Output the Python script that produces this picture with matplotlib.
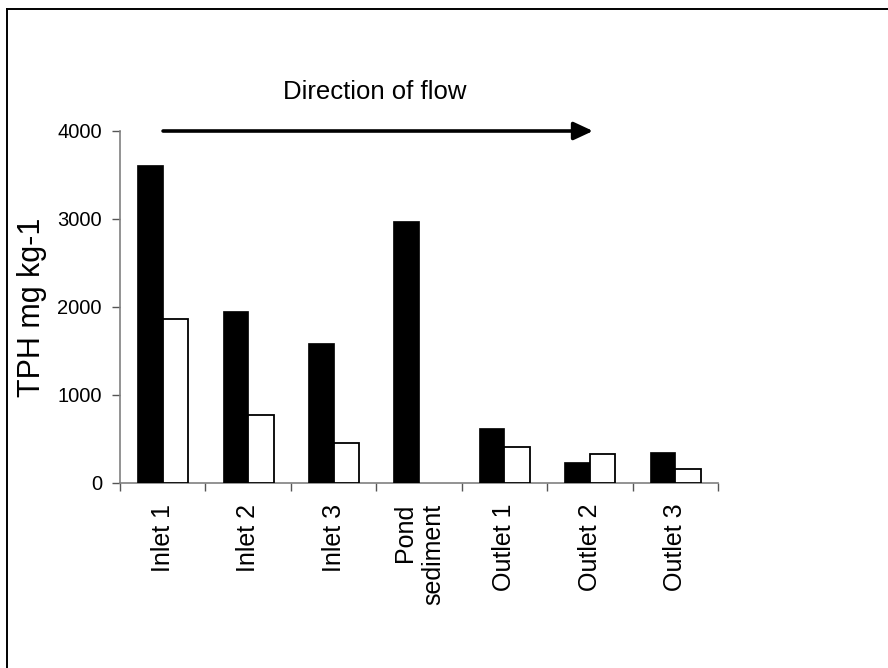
import numpy as np
import matplotlib
matplotlib.use("Agg")
import matplotlib.pyplot as plt
from matplotlib.lines import Line2D

plt.rcParams['font.family'] = ['Liberation Sans', 'DejaVu Sans']

# --- TPH concentrations per sampling point (mg/kg) ---
sites = ["Inlet 1", "Inlet 2", "Inlet 3", "Pond\nsediment", "Outlet 1", "Outlet 2", "Outlet 3"]
tph_black = [3614, 1958, 1595, 2981, 621, 235, 349]
tph_white = [1864, 773, 458, np.nan, 413, 326, 159]   # no second sample for pond sediment
y_ticks = [0, 1000, 2000, 3000, 4000]

W, H = 888, 668
fig = plt.figure(figsize=(W / 100, H / 100), dpi=100)
ax = fig.add_axes([120 / W, 185 / H, 598 / W, 352 / H])

x = np.arange(len(sites))
bw = 0.3
ax.bar(x - bw / 2, tph_black, width=bw, color='black', edgecolor='black', linewidth=0.5, zorder=3)
ax.bar(x + bw / 2, tph_white, width=bw, color='white', edgecolor='black', linewidth=1.3, zorder=3)

ax.set_xlim(-0.5, len(sites) - 0.5)
ax.set_ylim(0, 4000)
ax.set_yticks(y_ticks)
ax.set_yticklabels([str(v) for v in y_ticks], fontsize=14.5)

# tick marks between categories, labels centred under each group
ax.set_xticks(np.arange(len(sites) + 1) - 0.5)
ax.set_xticklabels([])
ax.set_xticks(x, minor=True)
ax.set_xticklabels(sites, minor=True, rotation=90, fontsize=18, va='top', ha='center',
                   multialignment='right')
ax.tick_params(axis='x', which='minor', length=0, pad=15)
ax.tick_params(axis='x', which='major', length=6, width=1, color='#555555', direction='out')
ax.tick_params(axis='y', length=6, width=1, color='#555555', direction='out', pad=7)

for side in ('top', 'right'):
    ax.spines[side].set_visible(False)
for side in ('left', 'bottom'):
    ax.spines[side].set_color('#808080')
    ax.spines[side].set_linewidth(1.2)

fig.text(32 / W, (H - 307) / H, "TPH mg kg-1", rotation=90, fontsize=22, ha='center', va='center')

# flow direction arrow along the top of the plot
ax.annotate('', xy=(0.791, 1.0), xytext=(0.072, 1.0), xycoords='axes fraction',
            textcoords='axes fraction', annotation_clip=False,
            arrowprops=dict(arrowstyle='-|>,head_length=0.58,head_width=0.27',
                            mutation_scale=20, lw=2.6, color='black',
                            shrinkA=0, shrinkB=0))
fig.text(375 / W, (H - 99) / H, "Direction of flow", fontsize=18.5, ha='center', va='baseline')

# outer frame (top and left edges)
fig.add_artist(Line2D([7 / W, 1.0], [(H - 9) / H, (H - 9) / H], color='black', lw=1.4))
fig.add_artist(Line2D([7 / W, 7 / W], [0.0, (H - 9) / H], color='black', lw=1.4))

fig.savefig("out.png", dpi=100, facecolor='white')
